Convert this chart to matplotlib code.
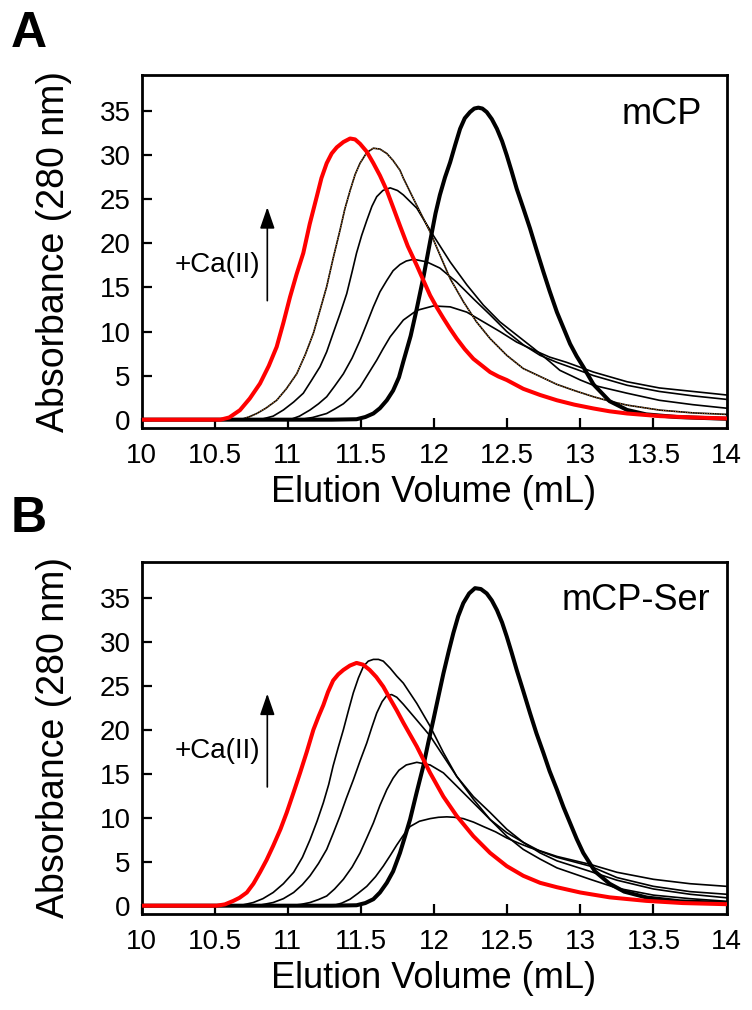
import matplotlib
matplotlib.use("Agg")
import matplotlib.pyplot as plt

plt.rcParams['font.family'] = ['Liberation Sans', 'DejaVu Sans']

# ---- Panel A (mCP) : elution profiles, x = volume (mL), y = A280 ----
a_red_x = [10.0, 10.3, 10.54, 10.6, 10.673, 10.74, 10.81, 10.87, 10.924, 10.97, 11.015, 11.06,
           11.106, 11.15, 11.198, 11.23, 11.266, 11.3, 11.335, 11.38, 11.426, 11.46, 11.494,
           11.54, 11.585, 11.63, 11.677, 11.72, 11.767, 11.82, 11.882, 11.93, 11.973, 12.02,
           12.064, 12.11, 12.155, 12.21, 12.269, 12.33, 12.383, 12.44, 12.497, 12.61, 12.725,
           12.84, 12.96, 13.09, 13.2, 13.32, 13.545, 13.77, 14.0]
a_red_y = [0, 0, 0, 0.25, 1.08, 2.4, 4.1, 6.1, 8.26, 11.0, 13.9, 16.5, 18.9, 22.2, 25.3, 27.4,
           29.1, 30.2, 30.9, 31.5, 31.9, 31.8, 31.3, 30.4, 29.1, 27.7, 26.0, 24.1, 22.0, 19.7,
           17.5, 15.7, 14.1, 12.7, 11.5, 10.3, 9.2, 8.0, 6.9, 6.1, 5.4, 4.9, 4.5, 3.5, 2.8, 2.2,
           1.7, 1.27, 0.95, 0.7, 0.4, 0.25, 0.14]

a_dot_x = [10.0, 10.6, 10.696, 10.74, 10.788, 10.85, 10.924, 10.99, 11.061, 11.12, 11.175, 11.22,
           11.266, 11.31, 11.357, 11.39, 11.426, 11.46, 11.494, 11.54, 11.585, 11.63, 11.677,
           11.72, 11.767, 11.79, 11.882, 11.973, 12.04, 12.11, 12.2, 12.29, 12.383, 12.497,
           12.61, 12.725, 12.84, 12.96, 13.09, 13.2, 13.32, 13.545, 13.77, 14.0]
a_dot_y = [0, 0, 0.1, 0.35, 0.7, 1.3, 2.2, 3.5, 5.2, 7.4, 9.8, 12.4, 15.1, 18.3, 21.5, 23.9,
           26.0, 27.8, 29.1, 30.3, 30.8, 30.7, 30.2, 29.4, 28.3, 27.4, 24.3, 21.3, 18.7, 16.0,
           13.4, 11.1, 9.2, 7.3, 5.8, 4.9, 4.0, 3.3, 2.6, 2.1, 1.65, 1.08, 0.77, 0.6]

a_c3_x = [10.0, 10.81, 10.9, 10.97, 11.04, 11.106, 11.16, 11.22, 11.266, 11.31, 11.357, 11.403,
          11.44, 11.47, 11.505, 11.54, 11.575, 11.608, 11.65, 11.7, 11.75, 11.79, 11.882,
          11.995, 12.11, 12.224, 12.337, 12.45, 12.565, 12.68, 12.79, 12.86, 13.0, 13.09,
          13.32, 13.54, 13.77, 14.0]
a_c3_y = [0, 0, 0.4, 1.1, 2.0, 3.0, 4.4, 6.0, 7.7, 9.8, 12.0, 14.3, 16.8, 18.9, 20.9, 22.6,
          24.2, 25.3, 26.0, 26.3, 26.0, 25.5, 24.0, 20.9, 17.9, 15.3, 13.0, 11.1, 9.6, 8.1,
          6.6, 5.6, 4.5, 3.9, 3.0, 2.2, 1.7, 1.3]

a_c4_x = [10.0, 11.015, 11.08, 11.152, 11.21, 11.266, 11.32, 11.38, 11.44, 11.494, 11.54,
          11.585, 11.63, 11.677, 11.72, 11.767, 11.81, 11.86, 11.95, 12.04, 12.155, 12.27,
          12.383, 12.497, 12.61, 12.725, 12.84, 12.975, 13.09, 13.32, 13.54, 13.77, 14.0]
a_c4_y = [0, 0, 0.4, 1.1, 1.8, 2.6, 3.8, 5.2, 7.0, 9.0, 10.9, 12.8, 14.5, 15.8, 16.9, 17.6,
          18.0, 18.2, 17.9, 17.2, 15.6, 13.7, 11.9, 10.0, 8.5, 7.3, 6.5, 5.7, 5.0, 3.9, 3.2,
          2.7, 2.3]

a_c5_x = [10.0, 11.08, 11.17, 11.266, 11.32, 11.38, 11.44, 11.494, 11.55, 11.608, 11.65, 11.7,
          11.79, 11.882, 11.995, 12.11, 12.224, 12.337, 12.45, 12.565, 12.68, 12.79, 12.907,
          13.09, 13.32, 13.54, 13.77, 14.0]
a_c5_y = [0, 0, 0.25, 0.7, 1.2, 1.8, 2.7, 3.7, 5.2, 6.75, 8.0, 9.4, 11.3, 12.4, 12.9, 12.8,
          12.2, 11.1, 10.0, 8.8, 7.9, 7.1, 6.5, 5.4, 4.3, 3.6, 3.2, 2.8]

a_apo_x = [10.0, 11.3, 11.47, 11.53, 11.585, 11.63, 11.677, 11.72, 11.76, 11.79, 11.84, 11.882,
           11.93, 11.973, 12.01, 12.04, 12.075, 12.11, 12.145, 12.178, 12.21, 12.246, 12.275,
           12.303, 12.33, 12.36, 12.395, 12.43, 12.465, 12.497, 12.53, 12.565, 12.61, 12.656,
           12.7, 12.747, 12.79, 12.84, 12.885, 12.93, 12.975, 13.02, 13.09, 13.2, 13.32, 13.45,
           13.66, 14.0]
a_apo_y = [0, 0, 0.05, 0.3, 0.7, 1.3, 2.2, 3.3, 4.8, 6.6, 9.5, 12.6, 16.4, 20.2, 23.4, 25.5,
           27.5, 29.2, 31.2, 33.0, 34.2, 34.9, 35.3, 35.4, 35.3, 34.9, 34.1, 33.0, 31.6, 30.0,
           28.2, 26.2, 24.0, 21.7, 19.3, 16.8, 14.6, 12.2, 10.4, 8.6, 7.2, 6.0, 4.0, 2.1, 1.1,
           0.6, 0.3, 0.1]

# ---- Panel B (mCP-Ser) ----
b_red_x = [10.0, 10.3, 10.514, 10.57, 10.628, 10.67, 10.72, 10.765, 10.81, 10.855, 10.9, 10.95,
           10.993, 11.04, 11.084, 11.13, 11.175, 11.21, 11.243, 11.275, 11.31, 11.345, 11.38,
           11.425, 11.47, 11.515, 11.56, 11.605, 11.653, 11.7, 11.745, 11.79, 11.882, 11.973,
           12.064, 12.155, 12.269, 12.383, 12.497, 12.61, 12.725, 12.84, 13.0, 13.2, 13.45,
           13.7, 14.0]
b_red_y = [0, 0, 0, 0.15, 0.55, 0.9, 1.5, 2.5, 3.8, 5.2, 6.8, 8.7, 10.6, 12.9, 15.1, 17.5,
           20.0, 21.5, 22.8, 24.3, 25.6, 26.3, 26.8, 27.3, 27.6, 27.4, 26.8, 26.0, 24.9, 23.5,
           22.2, 20.8, 18.1, 15.1, 12.4, 10.2, 7.9, 6.0, 4.5, 3.4, 2.6, 2.1, 1.5, 0.95, 0.55,
           0.3, 0.17]

b_c2_x = [10.0, 10.67, 10.764, 10.83, 10.9, 10.97, 11.04, 11.1, 11.152, 11.2, 11.243, 11.28,
          11.31, 11.345, 11.38, 11.415, 11.448, 11.483, 11.517, 11.55, 11.585, 11.62, 11.653,
          11.7, 11.745, 11.79, 11.882, 11.973, 12.064, 12.155, 12.269, 12.383, 12.497, 12.61,
          12.725, 12.84, 13.067, 13.25, 13.5, 13.75, 14.0]
b_c2_y = [0, 0, 0.36, 0.8, 1.5, 2.5, 3.8, 5.5, 7.5, 9.6, 11.7, 13.8, 15.9, 18.0, 20.0, 22.2,
          24.2, 25.9, 27.2, 27.8, 28.0, 28.0, 27.8, 27.0, 26.1, 25.3, 23.0, 20.4, 17.4, 14.7,
          12.1, 9.8, 7.9, 6.4, 5.3, 4.3, 3.0, 2.0, 1.2, 0.8, 0.5]

b_c3_x = [10.0, 10.79, 10.9, 10.97, 11.04, 11.1, 11.152, 11.21, 11.266, 11.31, 11.357, 11.4,
          11.448, 11.495, 11.54, 11.575, 11.608, 11.645, 11.677, 11.71, 11.745, 11.79, 11.882,
          11.973, 12.064, 12.155, 12.269, 12.383, 12.497, 12.61, 12.725, 12.84, 13.067, 13.25,
          13.5, 13.75, 14.0]
b_c3_y = [0, 0, 0.36, 0.8, 1.5, 2.4, 3.4, 4.8, 6.4, 8.2, 10.2, 12.2, 14.3, 16.5, 18.5, 20.3,
          21.9, 23.2, 23.9, 24.0, 23.7, 22.9, 21.1, 19.3, 17.0, 14.7, 12.4, 10.6, 8.7, 7.2,
          6.0, 5.1, 3.9, 2.9, 1.9, 1.3, 0.9]

b_c4_x = [10.0, 11.015, 11.09, 11.152, 11.21, 11.266, 11.32, 11.38, 11.44, 11.494, 11.54,
          11.585, 11.63, 11.677, 11.72, 11.76, 11.81, 11.882, 11.973, 12.064, 12.155, 12.269,
          12.383, 12.497, 12.61, 12.725, 12.84, 13.067, 13.25, 13.5, 13.75, 14.0]
b_c4_y = [0, 0, 0.15, 0.36, 0.7, 1.1, 1.9, 3.0, 4.4, 6.0, 7.7, 9.4, 11.4, 13.2, 14.5, 15.4,
          16.0, 16.3, 16.0, 15.1, 13.6, 11.7, 9.8, 8.3, 7.2, 6.2, 5.5, 4.5, 3.2, 2.2, 1.6, 1.3]

b_c5_x = [10.0, 11.31, 11.37, 11.426, 11.48, 11.54, 11.6, 11.653, 11.7, 11.745, 11.79, 11.836,
          11.9, 11.973, 12.03, 12.087, 12.14, 12.2, 12.27, 12.337, 12.42, 12.497, 12.58, 12.656,
          12.75, 12.84, 13.067, 13.25, 13.5, 13.75, 14.0]
b_c5_y = [0, 0, 0.3, 0.74, 1.4, 2.2, 3.3, 4.5, 5.7, 6.9, 8.0, 9.0, 9.6, 9.9, 10.05, 10.1,
          10.05, 9.9, 9.5, 9.0, 8.4, 7.7, 7.1, 6.6, 6.1, 5.6, 4.7, 3.8, 3.0, 2.5, 2.2]

b_apo_x = [10.0, 11.3, 11.47, 11.53, 11.585, 11.63, 11.677, 11.72, 11.767, 11.8, 11.836, 11.88,
           11.927, 11.96, 11.995, 12.03, 12.064, 12.1, 12.132, 12.165, 12.2, 12.24, 12.28, 12.32,
           12.36, 12.395, 12.43, 12.465, 12.497, 12.53, 12.565, 12.61, 12.656, 12.7, 12.747,
           12.79, 12.84, 12.885, 12.93, 12.975, 13.02, 13.1, 13.2, 13.3, 13.454, 13.68, 14.0]
b_apo_y = [0, 0, 0.05, 0.3, 0.74, 1.5, 2.6, 3.9, 6.0, 7.8, 9.8, 12.8, 15.9, 18.5, 21.1, 23.8,
           26.4, 28.9, 31.0, 32.9, 34.4, 35.5, 36.1, 36.0, 35.5, 34.7, 33.6, 32.2, 30.6, 28.8,
           26.8, 24.4, 21.9, 19.6, 17.4, 15.3, 13.2, 11.2, 9.4, 7.6, 6.0, 3.9, 2.5, 1.6, 0.93,
           0.5, 0.3]

x_ticks = [10, 10.5, 11, 11.5, 12, 12.5, 13, 13.5, 14]
x_ticklabels = ['10', '10.5', '11', '11.5', '12', '12.5', '13', '13.5', '14']
y_ticks = [0, 5, 10, 15, 20, 25, 30, 35]


def draw_panel(ax, thin_curves, red, apo, dotted, name, name_x):
    # thin black titration curves first, then the two thick ones on top
    for cx, cy in thin_curves:
        ax.plot(cx, cy, color='black', lw=1.2, zorder=2)
    if dotted is not None:
        ax.plot(dotted[0], dotted[1], color='black', lw=1.2, zorder=2)
        ax.plot(dotted[0], dotted[1], color='#d9822b', lw=0.7, ls=(0, (1, 1.5)), zorder=2.5)
    ax.plot(apo[0], apo[1], color='black', lw=2.9, zorder=3)
    ax.plot(red[0], red[1], color='#ff0000', lw=2.9, zorder=4)

    ax.set_xlim(10, 14)
    ax.set_ylim(-0.95, 39.1)
    ax.set_xticks(x_ticks)
    ax.set_xticklabels(x_ticklabels)
    ax.set_yticks(y_ticks)
    ax.tick_params(direction='in', length=7, width=1.6, labelsize=20)
    ax.tick_params(axis='x', pad=11)
    ax.tick_params(axis='y', pad=8)
    for s in ax.spines.values():
        s.set_linewidth(2)

    ax.set_xlabel('Elution Volume (mL)', fontsize=26, labelpad=4)
    ax.set_ylabel('Absorbance (280 nm)', fontsize=27, labelpad=20)

    ax.text(name_x, 33.6, name, fontsize=26, ha='right', va='baseline')
    ax.annotate('', xy=(10.86, 24.1), xytext=(10.86, 13.5),
                arrowprops=dict(arrowstyle='-|>,head_length=1.3,head_width=0.45',
                                color='black', lw=1.2, shrinkA=0, shrinkB=0))
    ax.text(10.81, 17.6, '+Ca(II)', fontsize=20, ha='right', va='center')


fig = plt.figure(figsize=(7.52, 10.10), dpi=100)

ax_a = fig.add_axes([0.1882, 0.5762, 0.778, 0.3495])
draw_panel(ax_a,
           [(a_c3_x, a_c3_y), (a_c4_x, a_c4_y), (a_c5_x, a_c5_y)],
           (a_red_x, a_red_y), (a_apo_x, a_apo_y), (a_dot_x, a_dot_y), 'mCP', 13.83)

ax_b = fig.add_axes([0.1882, 0.0950, 0.778, 0.3488])
draw_panel(ax_b,
           [(b_c2_x, b_c2_y), (b_c3_x, b_c3_y), (b_c4_x, b_c4_y), (b_c5_x, b_c5_y)],
           (b_red_x, b_red_y), (b_apo_x, b_apo_y), None, 'mCP-Ser', 13.89)

fig.text(11 / 752, 1 - 47 / 1010, 'A', fontsize=36, fontweight='bold', va='baseline')
fig.text(11 / 752, 1 - 532 / 1010, 'B', fontsize=36, fontweight='bold', va='baseline')

fig.savefig('out.png', dpi=100)
